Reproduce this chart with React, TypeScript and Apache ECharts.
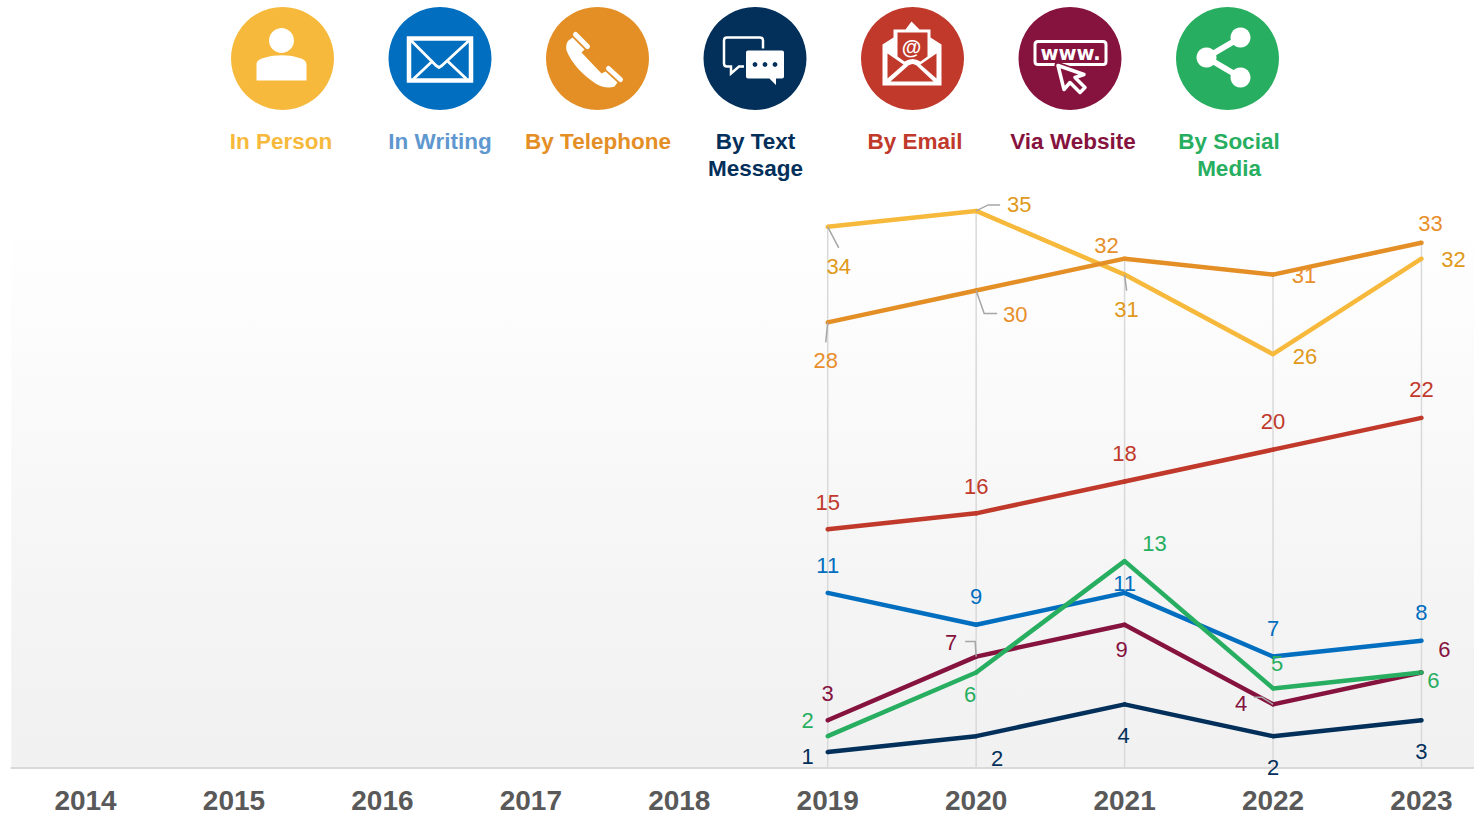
import React, { useEffect, useRef } from "react";
import * as echarts from "echarts";

const years = ["2014", "2015", "2016", "2017", "2018", "2019", "2020", "2021", "2022", "2023"];
const inPerson = [null, null, null, null, null, 34, 35, 31, 26, 32];
const inWriting = [null, null, null, null, null, 11, 9, 11, 7, 8];
const byTelephone = [null, null, null, null, null, 28, 30, 32, 31, 33];
const byText = [null, null, null, null, null, 1, 2, 4, 2, 3];
const byEmail = [null, null, null, null, null, 15, 16, 18, 20, 22];
const viaWebsite = [null, null, null, null, null, 3, 7, 9, 4, 6];
const bySocial = [null, null, null, null, null, 2, 6, 13, 5, 6];

const FONT = "'Liberation Sans', Arial, sans-serif";

// pixel offset of each visible label from its point (2019..2023)
const seriesDefs = [
  { name: "In Person", data: inPerson, color: "#F6B93B", labelColor: "#E0991A", off: [[11, 40], [43, -6], [2, 35], [32, 2], [32, 1]] },
  { name: "In Writing", data: inWriting, color: "#026EBF", labelColor: "#026EBF", off: [[0, -27], [0, -28], [0, -9], [0, -28], [0, -28]] },
  { name: "By Telephone", data: byTelephone, color: "#E48E26", labelColor: "#E88F2C", off: [[-2, 38], [39, 24], [-18, -13], [31, 1], [9, -19]] },
  { name: "By Text Message", data: byText, color: "#03305A", labelColor: "#03305A", off: [[-20, 4], [21, 22], [-1, 31], [0, 31], [0, 31]] },
  { name: "By Email", data: byEmail, color: "#C0392B", labelColor: "#C0392B", off: [[0, -27], [0, -27], [0, -28], [0, -28], [0, -28]] },
  { name: "Via Website", data: viaWebsite, color: "#86123E", labelColor: "#86123E", off: [[0, -27], [-25, -14], [-3, 25], [-32, -1], [23, -23]] },
  { name: "By Social Media", data: bySocial, color: "#27AE60", labelColor: "#27AE60", off: [[-20, -16], [-6, 22], [30, -18], [4, -25], [12, 8]] },
];

// leader lines: category index, value, pixel offsets from the point
const leaders = [
  { at: [5, inPerson[5]], pts: [[0, 0], [11, 21]] },
  { at: [6, inPerson[6]], pts: [[0, 0], [12, -6], [24, -6]] },
  { at: [7, inPerson[7]], pts: [[0, 0], [2, 16]] },
  { at: [5, byTelephone[5]], pts: [[0, 0], [-2, 20]] },
  { at: [6, byTelephone[6]], pts: [[0, 0], [8, 23], [21, 23]] },
  { at: [6, viaWebsite[6]], pts: [[0, 0], [-1, -15], [-11, -15]] },
  { at: [8, viaWebsite[8]], pts: [[0, 0], [-11, -7], [-19, -7]] },
];

const dropLines = years
  .map((_, i) => {
    const vs = seriesDefs.map((s) => s.data[i]).filter((v) => v !== null) as number[];
    return vs.length ? [i, Math.max(...vs)] : null;
  })
  .filter(Boolean) as number[][];

const legendItems = [
  { lines: ["In Person"], color: "#F6B93B", bg: "#F6B93B", textX: 281 },
  { lines: ["In Writing"], color: "#5F97CF", bg: "#026EBF", textX: 440 },
  { lines: ["By Telephone"], color: "#E48E26", bg: "#E48E26", textX: 598 },
  { lines: ["By Text", "Message"], color: "#03305A", bg: "#03305A", textX: 755.5 },
  { lines: ["By Email"], color: "#C0392B", bg: "#C0392B", textX: 915 },
  { lines: ["Via Website"], color: "#86123E", bg: "#86123E", textX: 1073 },
  { lines: ["By Social", "Media"], color: "#27AE60", bg: "#27AE60", textX: 1229 },
];

const reg = (name: string, d: string) =>
  echarts.graphic.registerShape(name, echarts.graphic.extendPath(d, {}));

reg("icoBody", "M-26 22 L-26 6 C-26 2 -22 0 -17 -1 C-8 -4 7 -4 15 -1 C20 0 24 2 24 6 L24 22 Z");
reg("icoPhone", "M-29 -18 L-25 -21 L-13 -9 L-16 -6 L4 15 L8 13 L20 24 L17 28 C12 30 4 29 -2 25 C-14 17 -26 5 -31 -8 C-32 -12 -31 -16 -29 -18 Z");
reg("icoBubbleA", "M-28 -21 L5 -21 Q8 -21 8 -18 L8 5 Q8 8 5 8 L-16 8 L-24 15 L-24 8 L-28 8 Q-31 8 -31 5 L-31 -18 Q-31 -21 -28 -21 Z");
reg("icoBubbleB", "M-7 -9 L27 -9 Q30 -9 30 -6 L30 18 Q30 21 27 21 L22 21 L22 29 L14 21 L-7 21 Q-10 21 -10 18 L-10 -6 Q-10 -9 -7 -9 Z");
reg("icoMailOuter", "M-30 27 L-30 -14 L-19 -21 L-19 -29 L-7 -29 L-1 -37 L7 -29 L18 -29 L18 -21 L29 -14 L29 27 Z");
reg("icoMailPaper", "M-15 -26 L15 -26 L15 -2 L8 3 Q0 -2 -8 3 L-15 -2 Z");
reg("icoMailLeft", "M-25 -5 L-25 20 L-9 6 Z");
reg("icoMailRight", "M24 -5 L24 20 L8 6 Z");
reg("icoMailBottom", "M-22 23 L-4 7 Q0 4 4 7 L21 23 Z");
reg("icoCursor", "M-12 7 L14 16 L5 19 L15 29 L10 34 L0 24 L-6 31 Z");
reg("icoBox", "M-32 -17 L33 -17 Q36 -17 36 -14 L36 3 Q36 6 33 6 L-32 6 Q-35 6 -35 3 L-35 -14 Q-35 -17 -32 -17 Z");

const W = "#fff";
const line = (cx: number, pts: number[][], lineWidth: number, stroke = W) => ({
  type: "polyline",
  x: cx,
  y: 58.5,
  shape: { points: pts },
  style: { stroke, lineWidth, fill: null, lineCap: "round", lineJoin: "round" },
});
const shape = (cx: number, type: string, style: any) => ({ type, x: cx, y: 58.5, style });
const dot = (cx: number, x: number, y: number, r: number, fill = W) => ({
  type: "circle",
  x: cx,
  y: 58.5,
  shape: { cx: x, cy: y, r },
  style: { fill },
});

const iconGlyphs: ((cx: number, bg: string) => any[])[] = [
  (cx) => [dot(cx, -1, -18, 12.5), shape(cx, "icoBody", { fill: W })],
  (cx) => [
    { type: "rect", x: cx, y: 58.5, shape: { x: -31, y: -20, width: 62, height: 42 }, style: { fill: null, stroke: W, lineWidth: 4.5 } },
    line(cx, [[-28, -17], [-4, 7], [-1, 9], [2, 7], [28, -17]], 2.8),
    line(cx, [[-26, 20], [-8, 3]], 2.8),
    line(cx, [[26, 20], [8, 3]], 2.8),
  ],
  (cx) => [
    shape(cx, "icoPhone", { fill: W }),
    line(cx, [[-22, -24], [-10, -12]], 5),
    line(cx, [[11, 10], [23, 21]], 5),
  ],
  (cx, bg) => [
    shape(cx, "icoBubbleA", { fill: null, stroke: W, lineWidth: 2.5 }),
    shape(cx, "icoBubbleB", { fill: W, stroke: bg, lineWidth: 2 }),
    dot(cx, 0, 6, 2.4, bg),
    dot(cx, 10, 6, 2.4, bg),
    dot(cx, 20, 6, 2.4, bg),
  ],
  (cx, bg) => [
    shape(cx, "icoMailOuter", { fill: W }),
    shape(cx, "icoMailPaper", { fill: bg }),
    shape(cx, "icoMailLeft", { fill: bg }),
    shape(cx, "icoMailRight", { fill: bg }),
    shape(cx, "icoMailBottom", { fill: bg }),
    { type: "text", x: cx - 1, y: 46.5, style: { text: "@", fill: W, font: `bold 20px ${FONT}`, align: "center", verticalAlign: "middle" } },
  ],
  (cx, bg) => [
    shape(cx, "icoBox", { fill: null, stroke: W, lineWidth: 3 }),
    { type: "text", x: cx + 0.5, y: 53, style: { text: "www.", fill: W, font: `bold 19.5px 'DejaVu Sans'`, align: "center", verticalAlign: "middle" } },
    shape(cx, "icoCursor", { fill: bg, stroke: bg, lineWidth: 7, lineJoin: "round" }),
    shape(cx, "icoCursor", { fill: bg, stroke: W, lineWidth: 3.5, lineJoin: "round" }),
  ],
  (cx) => [
    line(cx, [[13, -21], [-21, -1], [13, 19]], 6),
    dot(cx, 13, -21, 10),
    dot(cx, -21, -1, 10),
    dot(cx, 13, 19, 10),
  ],
];

const ICON_X0 = 282.5;
const ICON_DX = 157.5;

const graphics: any[] = [];
legendItems.forEach((item, i) => {
  const cx = ICON_X0 + i * ICON_DX;
  graphics.push({ type: "circle", x: cx, y: 58.5, shape: { cx: 0, cy: 0, r: 51.5 }, style: { fill: item.bg } });
  iconGlyphs[i](cx, item.bg).forEach((e) => graphics.push(e));
  item.lines.forEach((t, j) => {
    graphics.push({
      type: "text",
      x: item.textX,
      y: 141 + j * 27,
      style: { text: t, fill: item.color, font: `bold 22.5px ${FONT}`, align: "center", verticalAlign: "middle" },
    });
  });
});

export default function App() {
  const ref = useRef<HTMLDivElement>(null);
  useEffect(() => {
    document.body.style.margin = "0";
    const chart = echarts.init(ref.current!, null, { renderer: "svg" });
    chart.setOption({
      animation: false,
      backgroundColor: "#fff",
      textStyle: { fontFamily: FONT },
      graphic: { elements: graphics.map((g) => ({ ...g, silent: true })) },
      grid: {
        left: 11.3,
        width: 1484.4,
        top: 195,
        height: 573,
        outerBoundsMode: "none",
        containLabel: false,
        show: true,
        borderWidth: 0,
        backgroundColor: new echarts.graphic.LinearGradient(0, 0, 0, 1, [
          { offset: 0, color: "#ffffff" },
          { offset: 0.04, color: "#ffffff" },
          { offset: 0.8, color: "#f3f3f3" },
          { offset: 1, color: "#f1f1f1" },
        ]),
      },
      xAxis: {
        type: "category",
        data: years,
        boundaryGap: true,
        axisTick: { show: false },
        axisLine: { lineStyle: { color: "#d9d9d9", width: 2 } },
        axisLabel: { color: "#595959", fontWeight: "bold", fontSize: 28, fontFamily: FONT, margin: 18.5, interval: 0, hideOverlap: false },
        splitLine: { show: false },
      },
      yAxis: { type: "value", min: 0, max: 36, show: false, splitLine: { show: false } },
      series: [
        {
          type: "custom",
          name: "drop lines",
          data: dropLines,
          silent: true,
          z: 1,
          clip: false,
          renderItem: (_: any, api: any) => {
            const a = api.coord([api.value(0), api.value(1)]);
            const b = api.coord([api.value(0), 0]);
            return {
              type: "line",
              shape: { x1: a[0], y1: a[1], x2: b[0], y2: b[1] },
              style: { stroke: "#d9d9d9", lineWidth: 1.5 },
            };
          },
        },
        ...seriesDefs.map((s) => ({
          type: "line",
          name: s.name,
          z: 3,
          connectNulls: false,
          symbol: "circle",
          symbolSize: 4.5,
          showSymbol: true,
          showAllSymbol: true,
          silent: true,
          lineStyle: { color: s.color, width: 4.5 },
          itemStyle: { color: s.color },
          data: s.data.map((v, i) =>
            v === null
              ? { value: null }
              : {
                  value: v,
                  label: {
                    show: true,
                    position: "inside",
                    offset: s.off[i - 5],
                    color: s.labelColor,
                    fontSize: 22,
                    fontFamily: FONT,
                    align: "center",
                    verticalAlign: "middle",
                  },
                }
          ),
        })),
        {
          type: "custom",
          name: "leader lines",
          data: leaders.map((l) => l.at),
          silent: true,
          z: 4,
          clip: false,
          renderItem: (p: any, api: any) => {
            const o = api.coord([api.value(0), api.value(1)]);
            return {
              type: "polyline",
              shape: { points: leaders[p.dataIndex].pts.map((d) => [o[0] + d[0], o[1] + d[1]]) },
              style: { stroke: "#a6a6a6", lineWidth: 1.5, fill: null },
            };
          },
        },
      ],
    });
    return () => chart.dispose();
  }, []);
  return <div ref={ref} style={{ width: 1474, height: 815, overflow: "hidden" }} />;
}
